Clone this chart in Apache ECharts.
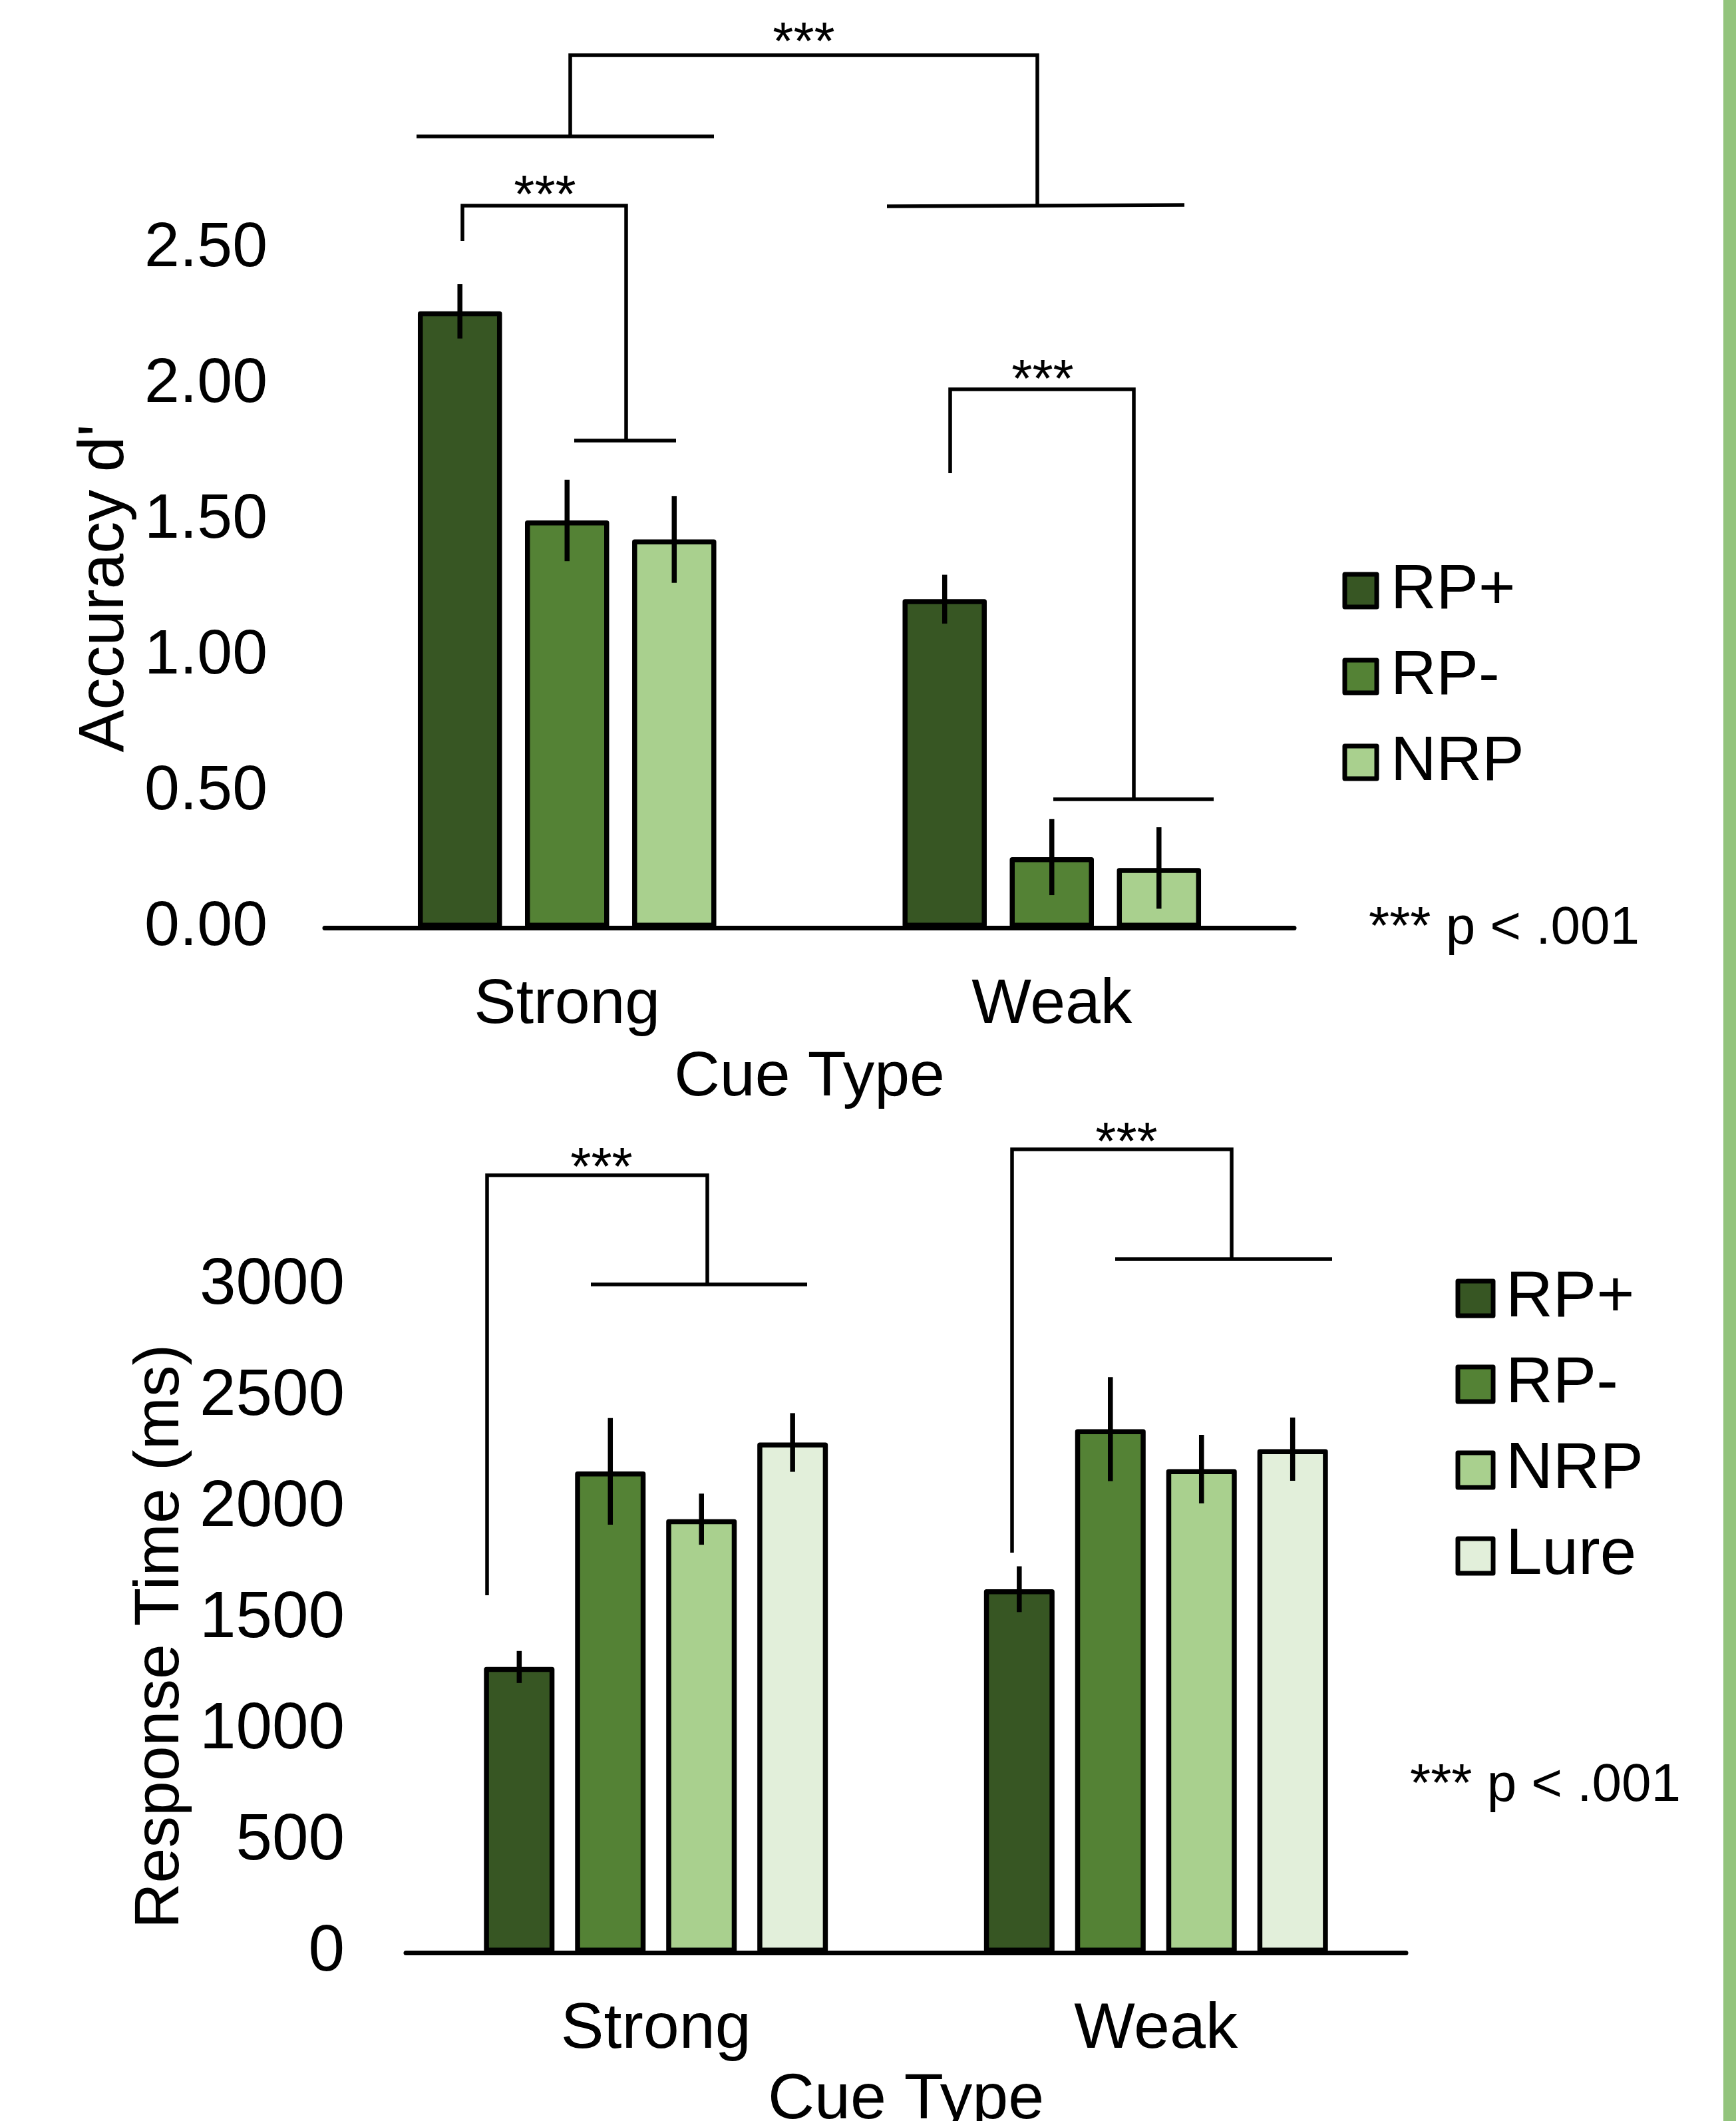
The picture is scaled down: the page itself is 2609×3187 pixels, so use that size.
<!DOCTYPE html>
<html><head><meta charset="utf-8">
<script src="https://cdn.jsdelivr.net/npm/echarts@6/dist/echarts.min.js"></script>
<style>html,body{margin:0;padding:0;background:#fff}#c{width:2609px;height:3187px}</style>
</head><body><div id="c"></div>
<script>
// ---------- data ----------
const categories = ['Strong', 'Weak'];

// Top panel: Accuracy d'
const accNames = ['RP+', 'RP-', 'NRP'];
const accRPplus  = [2.27, 1.21];
const accRPminus = [1.50, 0.26];
const accNRP     = [1.43, 0.22];
const accErrRPplus  = [0.10, 0.09];
const accErrRPminus = [0.15, 0.14];
const accErrNRP     = [0.16, 0.15];
const accTickLabels = ['0.00', '0.50', '1.00', '1.50', '2.00', '2.50'];

// Bottom panel: Response Time (ms)
const rtNames = ['RP+', 'RP-', 'NRP', 'Lure'];
const rtRPplus  = [1285, 1635];
const rtRPminus = [2165, 2355];
const rtNRP     = [1950, 2175];
const rtLure    = [2295, 2265];
const rtErrRPplus  = [72, 103];
const rtErrRPminus = [240, 234];
const rtErrNRP     = [115, 154];
const rtErrLure    = [132, 142];
const rtTickLabels = ['0', '500', '1000', '1500', '2000', '2500', '3000'];

const sigLabel = '***';
const pNote = '*** p < .001';

// ---------- style ----------
const F = '"Liberation Sans", Arial, Helvetica, sans-serif';
const colors = {'RP+': '#375623', 'RP-': '#548235', 'NRP': '#a9d08e', 'Lure': '#e2efda'};
const BORDER = 7.5;
const TOP_BW = 126.5, TOP_GAP = 0.273;
const BOT_BW = 106, BOT_GAP = 0.292;

const chart = echarts.init(document.getElementById('c'), null, {renderer: 'canvas'});

function barSeries(name, data, gi, bw, gap) {
  return {
    type: 'bar', name, data, xAxisIndex: gi, yAxisIndex: gi,
    barWidth: bw, barGap: (gap * 100) + '%',
    itemStyle: {color: colors[name], borderColor: '#000', borderWidth: BORDER, borderJoin: 'round'},
    emphasis: {disabled: true}, z: 3
  };
}
function errSeries(gi, values, errs, k, n, bw, gap) {
  return {
    type: 'custom', xAxisIndex: gi, yAxisIndex: gi, z: 10, silent: true,
    data: values.map((v, i) => [i, v, errs[i]]),
    encode: {x: 0, y: 1},
    renderItem(params, api) {
      const c = api.value(0), v = api.value(1), e = api.value(2);
      const off = (k - (n - 1) / 2) * bw * (1 + gap);
      const p1 = api.coord([c, v + e]), p2 = api.coord([c, v - e]);
      return {type: 'line', shape: {x1: p1[0] + off, y1: p1[1], x2: p2[0] + off, y2: p2[1]},
              style: {stroke: '#000', lineWidth: 7.5}};
    }
  };
}

function xAxisCfg(gi, fs, margin, nameGap) {
  return {
    type: 'category', gridIndex: gi, data: categories,
    axisLine: {lineStyle: {color: '#000', width: 7}}, axisTick: {show: false},
    axisLabel: {fontSize: fs, lineHeight: fs, color: '#000', fontFamily: F, margin, verticalAlign: 'middle'},
    name: 'Cue Type', nameLocation: 'middle', nameGap,
    nameTextStyle: {fontSize: fs, lineHeight: fs, color: '#000', fontFamily: F, verticalAlign: 'middle'}
  };
}
function yAxisCfg(gi, max, interval, labels, fs, margin, name, nfs, nameGap, npad) {
  return {
    type: 'value', gridIndex: gi, min: 0, max, interval,
    axisLine: {show: false}, axisTick: {show: false}, splitLine: {show: false},
    axisLabel: {fontSize: fs, lineHeight: fs, color: '#000', fontFamily: F, margin, padding: [16, 0, 0, 0],
                formatter: (v, i) => labels[i]},
    name, nameLocation: 'middle', nameGap, nameRotate: 90,
    nameTextStyle: {fontSize: nfs, lineHeight: nfs, color: '#000', fontFamily: F, verticalAlign: 'middle', padding: npad}
  };
}

const LW = 5.5;
function pl(points) { return {type: 'polyline', shape: {points}, style: {stroke: '#000', lineWidth: LW, fill: null}, silent: true}; }
function ln(x1, y1, x2, y2) { return {type: 'line', shape: {x1, y1, x2, y2}, style: {stroke: '#000', lineWidth: LW}, silent: true}; }
function tx(text, x, y, fs, align) {
  return {type: 'text', x, y, silent: true,
          style: {text, fontSize: fs, fontFamily: F, fill: '#000', align: align || 'center', verticalAlign: 'middle'}};
}

const option = {
  backgroundColor: '#fff',
  animation: false,
  grid: [
    {left: 488, top: 374, width: 1457, height: 1020, outerBoundsMode: 'none', containLabel: false},
    {left: 610, top: 1932, width: 1503, height: 1002, outerBoundsMode: 'none', containLabel: false}
  ],
  xAxis: [xAxisCfg(0, 95, 117, 226), xAxisCfg(1, 97, 116, 222)],
  yAxis: [
    yAxisCfg(0, 2.5, 0.5, accTickLabels, 95, 86, "Accuracy d'", 96, 316, [0, 0, 0, 0]),
    yAxisCfg(1, 3000, 500, rtTickLabels, 98, 92, 'Response Time (ms)', 95, 366, [0, 52, 0, 0])
  ],
  legend: [
    {orient: 'vertical', left: 2017.5, top: 840, padding: 0, itemWidth: 48, itemHeight: 49, itemGap: 34,
     data: accNames, icon: 'rect', selectedMode: false,
     itemStyle: {borderColor: '#000', borderWidth: 7},
     textStyle: {fontSize: 95, lineHeight: 95, color: '#000', fontFamily: F, padding: [0, 0, 0, 16]}},
    {orient: 'vertical', left: 2187.5, top: 1902, padding: 0, itemWidth: 53, itemHeight: 52, itemGap: 31,
     data: rtNames, icon: 'rect', selectedMode: false,
     itemStyle: {borderColor: '#000', borderWidth: 7},
     textStyle: {fontSize: 98, lineHeight: 98, color: '#000', fontFamily: F, padding: [0, 0, 0, 14]}}
  ],
  series: [
    barSeries('RP+', accRPplus, 0, TOP_BW, TOP_GAP),
    barSeries('RP-', accRPminus, 0, TOP_BW, TOP_GAP),
    barSeries('NRP', accNRP, 0, TOP_BW, TOP_GAP),
    errSeries(0, accRPplus, accErrRPplus, 0, 3, TOP_BW, TOP_GAP),
    errSeries(0, accRPminus, accErrRPminus, 1, 3, TOP_BW, TOP_GAP),
    errSeries(0, accNRP, accErrNRP, 2, 3, TOP_BW, TOP_GAP),
    barSeries('RP+', rtRPplus, 1, BOT_BW, BOT_GAP),
    barSeries('RP-', rtRPminus, 1, BOT_BW, BOT_GAP),
    barSeries('NRP', rtNRP, 1, BOT_BW, BOT_GAP),
    barSeries('Lure', rtLure, 1, BOT_BW, BOT_GAP),
    errSeries(1, rtRPplus, rtErrRPplus, 0, 4, BOT_BW, BOT_GAP),
    errSeries(1, rtRPminus, rtErrRPminus, 1, 4, BOT_BW, BOT_GAP),
    errSeries(1, rtNRP, rtErrNRP, 2, 4, BOT_BW, BOT_GAP),
    errSeries(1, rtLure, rtErrLure, 3, 4, BOT_BW, BOT_GAP)
  ],
  graphic: [
    {type: 'rect', shape: {x: 2590, y: 0, width: 19, height: 3187}, style: {fill: '#93c47d'}, silent: true},
    // top panel significance brackets
    pl([[857, 205], [857, 83], [1559, 83], [1559, 309]]),
    ln(626, 205, 1073, 205),
    ln(1333, 310, 1780, 308),
    tx(sigLabel, 1208, 67, 80),
    pl([[695, 362], [695, 309], [941, 309], [941, 662]]),
    ln(863, 662, 1016, 662),
    tx(sigLabel, 819, 297, 80),
    pl([[1428, 711], [1428, 585], [1704, 585], [1704, 1201]]),
    ln(1583, 1201, 1824, 1201),
    tx(sigLabel, 1567, 574, 80),
    tx(pNote, 2057, 1396, 80, 'left'),
    // bottom panel significance brackets
    pl([[732, 2397], [732, 1766], [1063, 1766], [1063, 1930]]),
    ln(888, 1930, 1213, 1930),
    tx(sigLabel, 904, 1758, 80),
    pl([[1521, 2333], [1521, 1727], [1851, 1727], [1851, 1892]]),
    ln(1676, 1892, 2002, 1892),
    tx(sigLabel, 1693, 1720, 80),
    tx(pNote, 2119, 2684, 80, 'left')
  ]
};
chart.setOption(option);
</script>
</body></html>
